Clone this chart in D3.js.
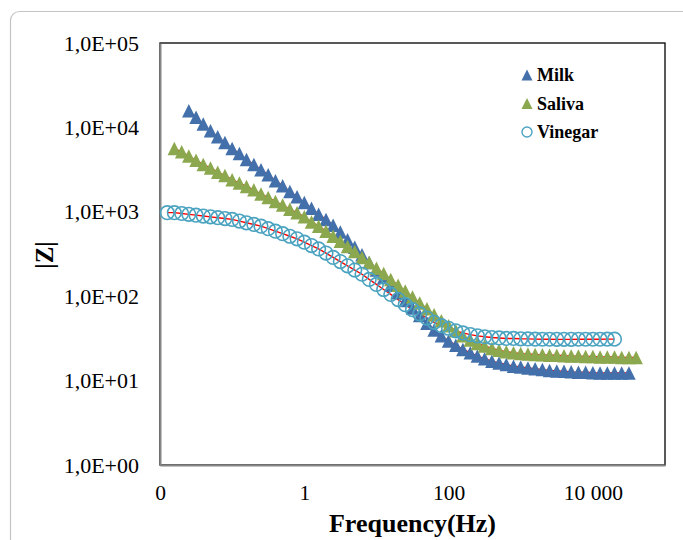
<!doctype html>
<html>
<head>
<meta charset="utf-8">
<script src="https://d3js.org/d3.v7.min.js"></script>
<style>
  body { margin: 0; background: #fff; }
</style>
</head>
<body>
<div id="chart"></div>
<script>
// frequencies (Hz), 10 points per decade
var freq = [0.0126, 0.0158, 0.02, 0.0251, 0.0316, 0.0398, 0.0501, 0.0631, 0.0794, 0.1,
  0.126, 0.158, 0.2, 0.251, 0.316, 0.398, 0.501, 0.631, 0.794,
  1, 1.26, 1.58, 2, 2.51, 3.16, 3.98, 5.01, 6.31, 7.94,
  10, 12.6, 15.8, 20, 25.1, 31.6, 39.8, 50.1, 63.1, 79.4,
  100, 126, 158, 200, 251, 316, 398, 501, 631, 794,
  1000, 1259, 1585, 1995, 2512, 3162, 3981, 5012, 6310, 7943,
  10000, 12589, 15849, 19953, 25119, 31623, 39811];

// |Z| in ohm, null where the series has no point
var milk = [null, null, null,
  15800, 13180, 10960, 9120, 7760, 6610, 5620,
  4900, 4170, 3630, 3160, 2750, 2340, 2040, 1740, 1510,
  1290, 1100, 933, 813, 692, 575, 468, 380, 309, 251,
  204, 166, 135, 110, 89.1, 72.4, 58.9, 47.9, 39.8, 33.9,
  29.5, 26.3, 23.4, 21.4, 19.5, 18.2, 17.0, 16.2, 15.5, 14.8,
  14.5, 14.1, 13.8, 13.5, 13.2, 13.0, 12.9, 12.7, 12.6, 12.6,
  12.4, 12.3, 12.3, 12.3, 12.3, 12.3, null];

var saliva = [null,
  5620, 5130, 4570, 4070, 3630, 3310, 2950, 2690, 2400,
  2190, 2000, 1820, 1620, 1480, 1320, 1200, 1070, 977,
  871, 759, 676, 589, 513, 447, 389, 339, 288, 251,
  214, 186, 158, 135, 115, 97.7, 83.2, 70.8, 60.3, 51.3,
  44.7, 38.9, 33.9, 30.2, 27.5, 25.7, 24.0, 22.9, 21.9, 21.4,
  20.9, 20.7, 20.4, 20.2, 20.0, 20.0, 19.7, 19.5, 19.5, 19.3,
  19.3, 19.1, 19.1, 19.1, 18.8, 18.8, 18.8];

var vinegar = [977, 977, 955, 933, 912, 891, 871, 851, 832, 813,
  776, 741, 708, 676, 631, 589, 550, 513, 479,
  437, 398, 363, 324, 288, 257, 229, 204, 182, 158,
  138, 120, 105, 91.2, 79.4, 69.2, 61.7, 55.0, 49.0, 44.7,
  41.7, 38.9, 36.7, 35.1, 33.9, 33.1, 32.4, 32.0, 31.6, 31.6,
  31.3, 31.2, 31.0, 30.9, 30.9, 30.8, 30.8, 30.8, 30.9, 30.9,
  30.9, 30.9, 31.0, 31.0, null, null, null];

var xTicks = [0.01, 1, 100, 10000];
var xTickLabels = ["0", "1", "100", "10 000"];
var yTicks = [1, 10, 100, 1000, 10000, 100000];
var yTickLabels = ["1,0E+00", "1,0E+01", "1,0E+02", "1,0E+03", "1,0E+04", "1,0E+05"];

var FONT = "Liberation Serif, Tinos, DejaVu Serif, Times New Roman, serif";

var W = 683, H = 540;
var margin = {top: 43, right: 18, bottom: 75, left: 160};

var svg = d3.select("#chart").append("svg")
    .attr("width", W)
    .attr("height", H)
    .attr("font-family", FONT);

// outer frame (runs off the right and bottom edge)
svg.append("rect")
    .attr("x", 10.5).attr("y", 11.5)
    .attr("width", 700).attr("height", 560)
    .attr("rx", 9)
    .attr("fill", "none")
    .attr("stroke", "#c4c4c4")
    .attr("stroke-width", 1.2);

var x = d3.scaleLog()
    .domain([0.01, 100000])
    .range([margin.left, W - margin.right]);
var y = d3.scaleLog()
    .domain([1, 100000])
    .range([H - margin.bottom, margin.top]);

// plot area border
svg.append("rect")
    .attr("x", x.range()[0]).attr("y", y.range()[1])
    .attr("width", x.range()[1] - x.range()[0])
    .attr("height", y.range()[0] - y.range()[1])
    .attr("fill", "none")
    .attr("stroke", "#000")
    .attr("stroke-width", 1.3);

// axes
var xAxis = svg.append("g")
    .attr("transform", "translate(0," + (H - margin.bottom) + ")")
    .call(d3.axisBottom(x).tickValues(xTicks)
      .tickFormat(function(d, i) { return xTickLabels[i]; })
      .tickSize(0).tickPadding(20));
xAxis.attr("font-family", FONT).attr("font-size", 21.5);
xAxis.select(".domain").attr("stroke", "#868686").attr("stroke-width", 2);
xAxis.selectAll("text").attr("fill", "#000");

var yAxis = svg.append("g")
    .attr("transform", "translate(" + margin.left + ",0)")
    .call(d3.axisLeft(y).tickValues(yTicks)
      .tickFormat(function(d, i) { return yTickLabels[i]; })
      .tickSize(0).tickPadding(21));
yAxis.attr("font-family", FONT).attr("font-size", 22);
yAxis.select(".domain").attr("stroke", "#868686").attr("stroke-width", 2);
yAxis.selectAll("text").attr("fill", "#000");

// axis titles
svg.append("text")
    .attr("x", (x.range()[0] + x.range()[1]) / 2)
    .attr("y", 532)
    .attr("text-anchor", "middle")
    .attr("font-size", 26)
    .attr("font-weight", "bold")
    .text("Frequency(Hz)");

svg.append("text")
    .attr("transform", "translate(53,255) rotate(-90)")
    .attr("text-anchor", "middle")
    .attr("font-size", 25)
    .attr("font-weight", "bold")
    .text("|Z|");

var series = [
  {name: "Milk", values: milk, color: "#4370aa", marker: "triangle"},
  {name: "Saliva", values: saliva, color: "#8ca84e", marker: "triangle"},
  {name: "Vinegar", values: vinegar, color: "#4ba3c0", marker: "circle"}
];

// red fitted lines under the markers
var line = d3.line()
    .defined(function(d) { return d[1] != null; })
    .x(function(d) { return x(d[0]); })
    .y(function(d) { return y(d[1]); });

series.forEach(function(s) {
  var pts = freq.map(function(f, i) { return [f, s.values[i]]; });
  svg.append("path")
      .datum(pts)
      .attr("fill", "none")
      .attr("stroke", "#ff0000")
      .attr("stroke-width", 1.4)
      .attr("d", line);
});

// Excel-like triangle: as tall as it is wide; size = width
var excelTriangle = {
  draw: function(ctx, size) {
    var h = size / 2;
    ctx.moveTo(0, -h);
    ctx.lineTo(h, h);
    ctx.lineTo(-h, h);
    ctx.closePath();
  }
};
var tri = d3.symbol().type(excelTriangle).size(13.5);

series.forEach(function(s) {
  var pts = freq.map(function(f, i) { return [f, s.values[i]]; })
      .filter(function(d) { return d[1] != null; });
  var g = svg.append("g");
  if (s.marker === "triangle") {
    g.selectAll("path").data(pts).enter().append("path")
        .attr("d", tri)
        .attr("transform", function(d) { return "translate(" + x(d[0]) + "," + y(d[1]) + ")"; })
        .attr("fill", s.color);
  } else {
    g.selectAll("circle").data(pts).enter().append("circle")
        .attr("cx", function(d) { return x(d[0]); })
        .attr("cy", function(d) { return y(d[1]); })
        .attr("r", 6.8)
        .attr("fill", "none")
        .attr("stroke", s.color)
        .attr("stroke-width", 1.6);
  }
});

// legend
var legTri = d3.symbol().type(excelTriangle).size(11);
series.forEach(function(s, i) {
  var ly = 75 + i * 28.5;
  if (s.marker === "triangle") {
    svg.append("path").attr("d", legTri)
        .attr("transform", "translate(527," + ly + ")")
        .attr("fill", s.color);
  } else {
    svg.append("circle").attr("cx", 527).attr("cy", ly).attr("r", 5)
        .attr("fill", "none").attr("stroke", s.color).attr("stroke-width", 1.4);
  }
  svg.append("text")
      .attr("x", 537).attr("y", ly + 6)
      .attr("font-size", 18)
      .attr("font-weight", "bold")
      .text(s.name);
});
</script>
</body>
</html>
